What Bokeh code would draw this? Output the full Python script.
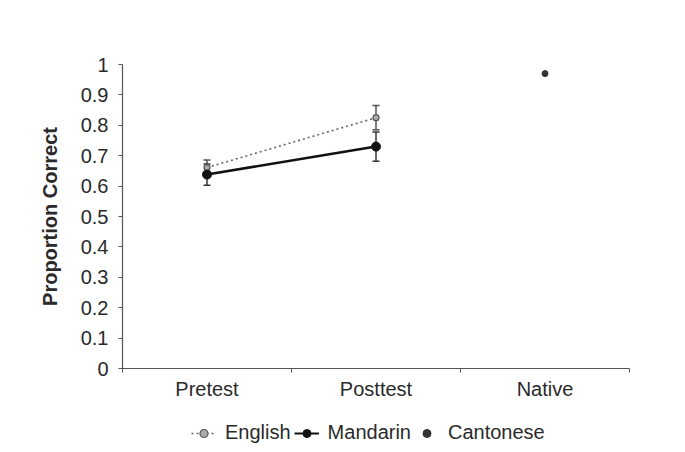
from bokeh.plotting import figure
from bokeh.layouts import column
from bokeh.models import (ColumnDataSource, Range1d, FixedTicker, LinearAxis,
                          Whisker, TeeHead, Legend, LegendItem)
from bokeh.embed import file_html
from bokeh.resources import INLINE

categories = ["Pretest", "Posttest", "Native"]
y_ticks = [0, 0.1, 0.2, 0.3, 0.4, 0.5, 0.6, 0.7, 0.8, 0.9, 1]
y_tick_labels = ["0", "0.1", "0.2", "0.3", "0.4", "0.5", "0.6", "0.7", "0.8", "0.9", "1"]

english_cats = ["Pretest", "Posttest"]
english_vals = [0.661, 0.825]
english_err = [0.025, 0.04]

mandarin_cats = ["Pretest", "Posttest"]
mandarin_vals = [0.638, 0.730]
mandarin_err = [0.035, 0.048]

cantonese_cats = ["Native"]
cantonese_vals = [0.97]

series_names = ["English", "Mandarin", "Cantonese"]

FONT = "Liberation Sans"
TXT = "#2a2a2a"

ENG_LINE = dict(line_color="#666666", line_width=1.6, line_dash="2 3")
ENG_PT = dict(marker="circle", size=6, fill_color="#aaaaaa", line_color="#555555", line_width=1.2)
MAN_LINE = dict(line_color="#111111", line_width=2.6)
MAN_PT = dict(marker="circle", size=9, fill_color="#111111", line_color="#111111")
CAN_PT = dict(marker="circle", size=6, fill_color="#333333", line_color="#333333")

def pos(cats):
    return [categories.index(c) + 0.5 for c in cats]

eng = ColumnDataSource(dict(x=pos(english_cats), y=english_vals,
                            upper=[v + e for v, e in zip(english_vals, english_err)],
                            lower=[v - e for v, e in zip(english_vals, english_err)]))
man = ColumnDataSource(dict(x=pos(mandarin_cats), y=mandarin_vals,
                            upper=[v + e for v, e in zip(mandarin_vals, mandarin_err)],
                            lower=[v - e for v, e in zip(mandarin_vals, mandarin_err)]))
can = ColumnDataSource(dict(x=pos(cantonese_cats), y=cantonese_vals))

p = figure(frame_width=507, frame_height=304, output_backend="svg", toolbar_location=None,
           x_range=Range1d(0, len(categories)), y_range=Range1d(0, 1),
           x_axis_type=None, y_axis_type=None,
           min_border_left=122, min_border_top=64, min_border_right=48, min_border_bottom=40)
p.outline_line_color = None
p.xgrid.visible = False
p.ygrid.visible = False
p.background_fill_color = "white"
p.border_fill_color = "white"

# y axis
yax = LinearAxis(ticker=FixedTicker(ticks=y_ticks, minor_ticks=[]))
yax.major_label_overrides = {t: l for t, l in zip(y_ticks, y_tick_labels)}
yax.axis_line_color = "#555555"
yax.axis_line_width = 1.2
yax.major_tick_line_color = "#555555"
yax.major_tick_out = 4
yax.major_tick_in = 0
yax.major_label_standoff = 10
yax.major_label_text_font = FONT
yax.major_label_text_font_size = "20px"
yax.major_label_text_color = TXT
yax.axis_label = "Proportion Correct"
yax.axis_label_text_font = FONT
yax.axis_label_text_font_style = "bold"
yax.axis_label_text_font_size = "20px"
yax.axis_label_text_color = TXT
yax.axis_label_standoff = 17
p.add_layout(yax, "left")

# x axis
xax = LinearAxis(ticker=FixedTicker(ticks=pos(categories),
                                    minor_ticks=list(range(len(categories) + 1))))
xax.major_label_overrides = {x: c for x, c in zip(pos(categories), categories)}
xax.axis_line_color = "#555555"
xax.axis_line_width = 1.2
xax.major_tick_out = 0
xax.major_tick_in = 0
xax.minor_tick_out = 4
xax.minor_tick_in = 0
xax.minor_tick_line_color = "#555555"
xax.major_label_standoff = 5
xax.major_label_text_font = FONT
xax.major_label_text_font_size = "20px"
xax.major_label_text_color = TXT
p.add_layout(xax, "below")

# error bars
for src, col in ((eng, "#555555"), (man, "#333333")):
    w = Whisker(base="x", upper="upper", lower="lower", source=src, dimension="height",
                line_color=col, line_width=1.5,
                upper_head=TeeHead(size=7, line_color=col, line_width=1.5),
                lower_head=TeeHead(size=7, line_color=col, line_width=1.5))
    p.add_layout(w)

p.line("x", "y", source=eng, **ENG_LINE)
p.scatter("x", "y", source=eng, **ENG_PT)
p.line("x", "y", source=man, **MAN_LINE)
p.scatter("x", "y", source=man, **MAN_PT)
p.scatter("x", "y", source=can, **CAN_PT)

# legend strip (separate figure so the legend is not clipped by the main frame);
# its ranges exclude the data, so only the legend glyphs show
lf = figure(width=677, height=44, output_backend="svg", toolbar_location=None,
            x_range=Range1d(10, 11), y_range=Range1d(10, 11),
            x_axis_type=None, y_axis_type=None,
            min_border=0)
lf.outline_line_color = None
lf.xgrid.visible = False
lf.ygrid.visible = False
le_line = lf.line("x", "y", source=eng, **ENG_LINE)
le_pt = lf.scatter("x", "y", source=eng, **ENG_PT)
lm_line = lf.line("x", "y", source=man, **dict(MAN_LINE, line_width=2))
lm_pt = lf.scatter("x", "y", source=man, **dict(MAN_PT, size=7))
lc_pt = lf.scatter("x", "y", source=can, **dict(CAN_PT, size=4))

legend = Legend(items=[
    LegendItem(label=series_names[0], renderers=[le_line, le_pt]),
    LegendItem(label=series_names[1], renderers=[lm_line, lm_pt]),
    LegendItem(label=series_names[2], renderers=[lc_pt]),
], orientation="horizontal", location=(69, 8))
legend.label_text_font = FONT
legend.label_text_font_size = "20px"
legend.label_text_color = TXT
legend.glyph_width = 25
legend.label_standoff = 9
legend.spacing = 3
legend.padding = 2
legend.margin = 0
legend.border_line_color = None
legend.background_fill_alpha = 0
lf.add_layout(legend, "center")

open("out.html", "w").write(file_html(column(p, lf), INLINE))
